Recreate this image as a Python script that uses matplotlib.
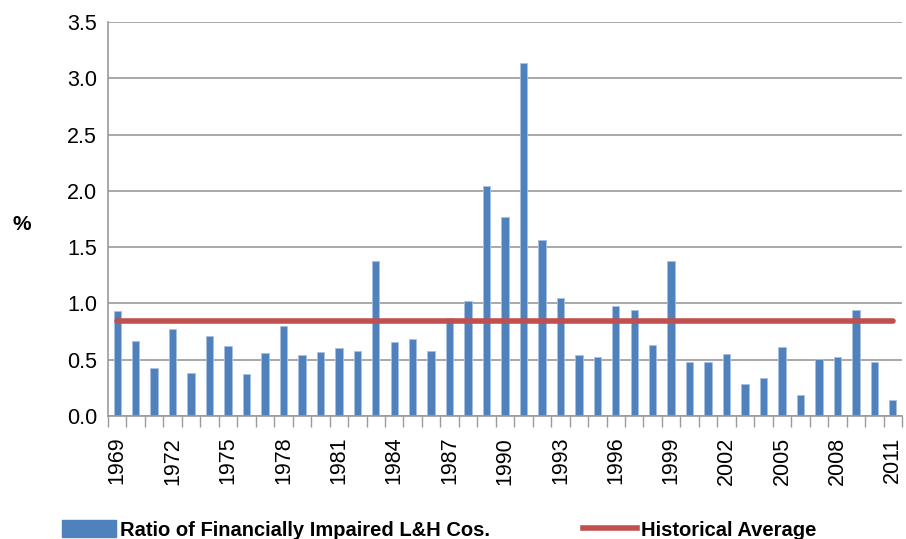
import matplotlib.pyplot as plt
from matplotlib.patches import Patch
from matplotlib.lines import Line2D
import numpy as np

years = list(range(1969, 2012))
ratio = [
    0.93, 0.67, 0.43, 0.77, 0.38, 0.71, 0.62, 0.37, 0.56, 0.80,
    0.54, 0.57, 0.60, 0.58, 1.38, 0.66, 0.68, 0.58, 0.87, 1.02,
    2.04, 1.77, 3.14, 1.56, 1.05, 0.54, 0.52, 0.98, 0.94, 0.63,
    1.38, 0.48, 0.48, 0.55, 0.28, 0.34, 0.61, 0.19, 0.51, 0.52,
    0.94, 0.48, 0.14,
]
historical_average = 0.84
yticks = [0.0, 0.5, 1.0, 1.5, 2.0, 2.5, 3.0, 3.5]

BLUE = "#4F81BD"
RED = "#C0504D"
GRID = "#9a9a9a"

plt.rcParams["font.family"] = ["Liberation Sans", "DejaVu Sans"]

fig = plt.figure(figsize=(9.06, 5.39), dpi=100)
ax = fig.add_axes([108 / 906, 1 - 416 / 539, 794 / 906, 394 / 539])

x = np.arange(len(years))
ax.bar(x, ratio, width=0.4, color=BLUE, edgecolor="#a9c0e0", linewidth=0.6, zorder=2)
ax.plot([x[0], x[-1]], [historical_average] * 2, color=RED, linewidth=4,
        solid_capstyle="round", zorder=3)

ax.set_xlim(-0.5, len(years) - 0.5)
ax.set_ylim(0, 3.5)
ax.set_yticks(yticks)
ax.set_yticklabels([f"{v:.1f}" for v in yticks], fontsize=15.5)
ax.yaxis.grid(True, color=GRID, linewidth=1.2, zorder=0)
ax.tick_params(axis="y", length=0, pad=8)

label_idx = x[::3]
ax.set_xticks(label_idx)
ax.set_xticklabels([str(years[i]) for i in label_idx], rotation=90, fontsize=15.5)
ax.set_xticks(np.arange(-0.5, len(years)), minor=True)
ax.tick_params(axis="x", which="major", length=0, pad=15)
ax.tick_params(axis="x", which="minor", length=8, color=GRID, width=1)

for side in ("top", "right"):
    ax.spines[side].set_visible(False)
for side in ("left", "bottom"):
    ax.spines[side].set_color(GRID)
    ax.spines[side].set_linewidth(1.2)

ax.set_ylabel("%", fontsize=15, fontweight="bold", rotation=0, va="center", ha="center")
ax.yaxis.set_label_coords(-0.108, 0.485)

handles = [
    Patch(facecolor=BLUE, edgecolor=BLUE),
    Line2D([0], [0], color=RED, linewidth=4),
]
fig.legend(handles, ["Ratio of Financially Impaired L&H Cos.", "Historical Average"],
           loc="lower center", bbox_to_anchor=(0.485, -0.035), ncol=2, frameon=False,
           prop={"size": 14.5, "weight": "bold"}, handlelength=2.7, handleheight=0.9,
           handletextpad=0.2, columnspacing=4.6)

fig.savefig("out.png", dpi=100)
